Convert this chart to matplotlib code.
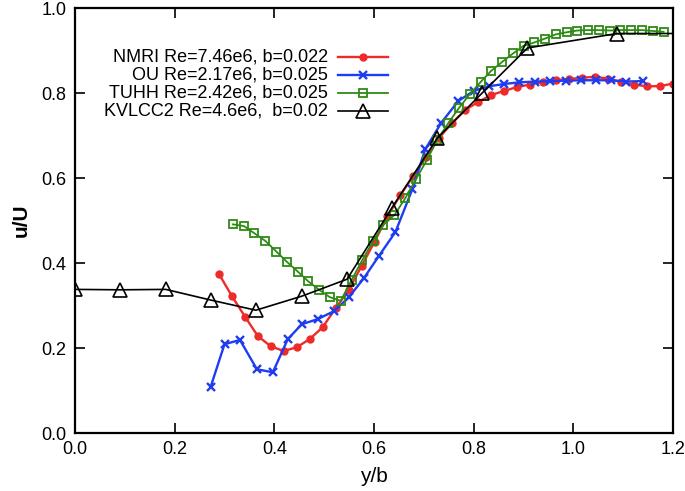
import matplotlib
matplotlib.use("Agg")
import matplotlib.pyplot as plt

# ---- data ----
nmri_x = [0.289, 0.315, 0.341, 0.367, 0.393, 0.419, 0.445, 0.471, 0.497, 0.523,
          0.549, 0.575, 0.601, 0.627, 0.653, 0.679, 0.705, 0.731, 0.757, 0.783,
          0.809, 0.835, 0.861, 0.887, 0.913, 0.939, 0.965, 0.991, 1.017, 1.043,
          1.069, 1.095, 1.121, 1.147, 1.173, 1.199]
nmri_y = [0.374, 0.322, 0.274, 0.228, 0.204, 0.193, 0.202, 0.221, 0.249, 0.294,
          0.336, 0.393, 0.450, 0.510, 0.560, 0.605, 0.650, 0.695, 0.730, 0.760,
          0.779, 0.795, 0.805, 0.814, 0.820, 0.826, 0.830, 0.833, 0.836, 0.838,
          0.834, 0.826, 0.820, 0.816, 0.816, 0.822]

ou_x = [0.272, 0.300, 0.331, 0.365, 0.397, 0.427, 0.455, 0.487, 0.520, 0.550,
        0.580, 0.610, 0.643, 0.677, 0.703, 0.735, 0.769, 0.800, 0.831, 0.860,
        0.890, 0.924, 0.954, 0.985, 1.016, 1.046, 1.076, 1.106, 1.139]
ou_y = [0.108, 0.209, 0.219, 0.150, 0.143, 0.221, 0.256, 0.268, 0.287, 0.320,
        0.365, 0.417, 0.473, 0.574, 0.668, 0.730, 0.781, 0.805, 0.816, 0.821,
        0.825, 0.827, 0.828, 0.829, 0.830, 0.830, 0.830, 0.827, 0.828]

tuhh_x = [0.317, 0.339, 0.360, 0.382, 0.404, 0.425, 0.447, 0.468, 0.490, 0.511,
          0.533, 0.555, 0.576, 0.598, 0.619, 0.641, 0.663, 0.684, 0.706, 0.727,
          0.749, 0.770, 0.792, 0.814, 0.835, 0.857, 0.879, 0.900, 0.922, 0.943,
          0.965, 0.987, 1.008, 1.030, 1.051, 1.073, 1.094, 1.116, 1.137, 1.159,
          1.181]
tuhh_y = [0.491, 0.487, 0.470, 0.452, 0.427, 0.403, 0.380, 0.357, 0.337, 0.320,
          0.311, 0.360, 0.406, 0.451, 0.490, 0.513, 0.553, 0.597, 0.642, 0.690,
          0.729, 0.764, 0.797, 0.826, 0.852, 0.873, 0.893, 0.911, 0.919, 0.928,
          0.938, 0.943, 0.947, 0.948, 0.948, 0.947, 0.948, 0.948, 0.948, 0.946,
          0.944]

kvlcc2_x = [0.0, 0.091, 0.182, 0.272, 0.363, 0.455, 0.546, 0.636, 0.727, 0.817,
            0.908, 1.088, 1.2]
kvlcc2_y = [0.338, 0.337, 0.338, 0.313, 0.289, 0.322, 0.362, 0.530, 0.694, 0.800,
            0.906, 0.940, 0.940]

labels = ["NMRI Re=7.46e6, b=0.022", "OU Re=2.17e6, b=0.025",
          "TUHH Re=2.42e6, b=0.025", "KVLCC2 Re=4.6e6,  b=0.02"]
xticks = [0.0, 0.2, 0.4, 0.6, 0.8, 1.0, 1.2]
yticks = [0.0, 0.2, 0.4, 0.6, 0.8, 1.0]

plt.rcParams['font.family'] = ['Liberation Sans', 'DejaVu Sans']

fig = plt.figure(figsize=(6.85, 4.91), dpi=100)
ax = fig.add_axes([0.1095, 0.118, 0.873, 0.8657])

red, blue, green = '#ee2a2a', '#1f3df0', '#2e8a14'
styles = [
    dict(color=red, marker='o', ms=5, lw=1.7, mfc=red, mec=red),
    dict(color=blue, marker='x', ms=6, lw=1.7, mew=1.7),
    dict(color=green, marker='s', ms=5.5, lw=1.3, mfc='none', mec=green, mew=1.3),
    dict(color='black', marker='^', ms=10, lw=1.2, mfc='none', mec='black', mew=1.2),
]
series = [(nmri_x, nmri_y), (ou_x, ou_y), (tuhh_x, tuhh_y), (kvlcc2_x, kvlcc2_y)]
for i, ((xs, ys), st) in enumerate(zip(series, styles)):
    mev = list(range(len(xs) - 1)) if i == 3 else None
    ax.plot(xs, ys, clip_on=True, markevery=mev, **st)

ax.set_xlim(0, 1.2)
ax.set_ylim(0, 1.0)
ax.set_xticks(xticks)
ax.set_yticks(yticks)
ax.set_xticklabels([f"{v:.1f}" for v in xticks])
ax.set_yticklabels([f"{v:.1f}" for v in yticks])
ax.tick_params(direction='in', length=7, width=1.2, top=True, right=True,
               labelsize=13, pad=6)
for s in ax.spines.values():
    s.set_linewidth(1.6)

ax.set_xlabel("y/b", fontsize=15, labelpad=6)
ax.set_ylabel("u/U", fontsize=15, fontweight='bold', labelpad=8)

# gnuplot-style key: right-aligned text, sample to the right
ys_key = [0.885, 0.842, 0.800, 0.758]
for lab, st, yk in zip(labels, styles, ys_key):
    ax.text(0.423, yk, lab, transform=ax.transAxes, ha='right', va='center',
            fontsize=13)
    st2 = dict(st)
    ax.plot([0.44, 0.523], [yk, yk], transform=ax.transAxes, clip_on=False,
            color=st2.pop('color'), lw=st2.pop('lw'), marker='None')
    ax.plot([0.4815], [yk], transform=ax.transAxes, clip_on=False,
            linestyle='None', color=st['color'], **st2)

fig.savefig("out.png", dpi=100)
